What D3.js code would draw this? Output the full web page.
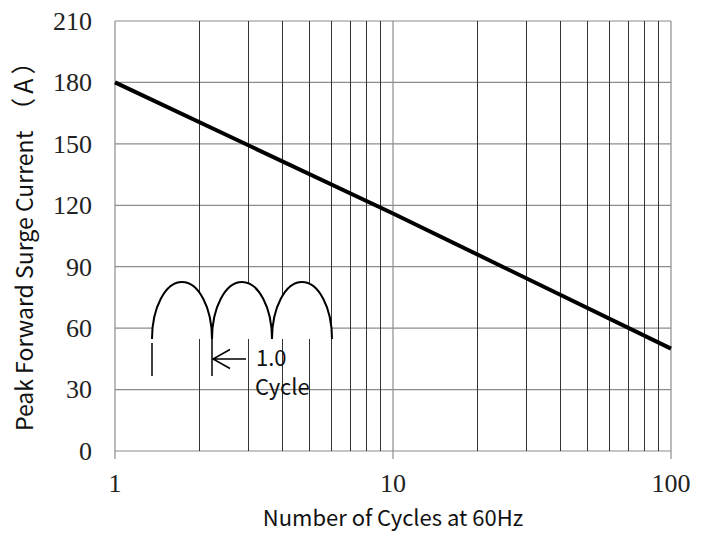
<!DOCTYPE html>
<html>
  <head>
    <meta charset="utf-8" />
    <title>Surge Current</title>
    <script src="https://d3js.org/d3.v7.min.js"></script>
    <style>
      body { margin: 0; background: #fff; }
      .tick-label { font-family: "Liberation Serif", serif; font-size: 26px; fill: #222; }
      .title { font-family: "Noto Sans CJK SC", "Noto Sans", sans-serif; font-size: 22px; fill: #111; }
    </style>
  </head>
  <body>
    <svg id="chart" width="708" height="534"></svg>
    <script>
      // curve
      var cycles = [1, 10, 100];
      var current = [180, 116, 50];

      var yTicks = [0, 30, 60, 90, 120, 150, 180, 210];
      var xDecades = [1, 10, 100];
      var xMinor = [2, 3, 4, 5, 6, 7, 8, 9, 20, 30, 40, 50, 60, 70, 80, 90];

      var plotL = 115, plotR = 671, plotT = 21, plotB = 451;

      var svg = d3.select("#chart");

      var x = d3.scaleLog().domain([1, 100]).range([plotL, plotR]);
      var y = d3.scaleLinear().domain([0, 210]).range([plotB, plotT]);

      // horizontal grid
      svg.selectAll("line.hgrid")
        .data(yTicks)
        .enter().append("line")
        .attr("class", "hgrid")
        .attr("x1", plotL).attr("x2", plotR)
        .attr("y1", function (d) { return y(d); })
        .attr("y2", function (d) { return y(d); })
        .attr("stroke", "#8c8c8c")
        .attr("stroke-width", 1.2);

      // minor vertical grid
      svg.selectAll("line.vminor")
        .data(xMinor)
        .enter().append("line")
        .attr("class", "vminor")
        .attr("x1", function (d) { return Math.round(x(d)) + 0.5; })
        .attr("x2", function (d) { return Math.round(x(d)) + 0.5; })
        .attr("y1", plotT).attr("y2", plotB)
        .attr("stroke", "#333")
        .attr("stroke-width", 1);

      // decade lines, with a small tick below the frame
      svg.selectAll("line.vmajor")
        .data(xDecades)
        .enter().append("line")
        .attr("class", "vmajor")
        .attr("x1", function (d) { return x(d); })
        .attr("x2", function (d) { return x(d); })
        .attr("y1", plotT).attr("y2", plotB + 8)
        .attr("stroke", "#8c8c8c")
        .attr("stroke-width", 1.2);

      // y tick labels
      svg.selectAll("text.ylab")
        .data(yTicks)
        .enter().append("text")
        .attr("class", "tick-label")
        .attr("x", 92)
        .attr("y", function (d) { return y(d); })
        .attr("dy", "0.34em")
        .attr("text-anchor", "end")
        .text(function (d) { return d; });

      // x tick labels
      svg.selectAll("text.xlab")
        .data(xDecades)
        .enter().append("text")
        .attr("class", "tick-label")
        .attr("x", function (d) { return x(d); })
        .attr("y", 492)
        .attr("text-anchor", "middle")
        .text(function (d) { return d; });

      // inset: rectified wave drawing
      var g = svg.append("g");
      var x0 = 152, w = 60, base = 339, h = 57;
      var arches = [0, 1, 2];
      var path = "M" + x0 + "," + base;
      arches.forEach(function (i) {
        path += " A" + (w / 2) + "," + h + " 0 0 1 " + (x0 + (i + 1) * w) + "," + base;
      });
      g.append("path")
        .attr("d", path + " Z")
        .attr("fill", "#fff")
        .attr("stroke", "none");
      g.append("path")
        .attr("d", path)
        .attr("fill", "none")
        .attr("stroke", "#000")
        .attr("stroke-width", 2);
      g.append("line")
        .attr("x1", x0).attr("x2", x0)
        .attr("y1", 343).attr("y2", 376)
        .attr("stroke", "#000").attr("stroke-width", 1.5);
      g.append("line")
        .attr("x1", x0 + w).attr("x2", x0 + w)
        .attr("y1", base).attr("y2", 376)
        .attr("stroke", "#000").attr("stroke-width", 1.5);
      g.append("path")
        .attr("d", "M" + (x0 + w + 1) + ",359 L246,359 M" + (x0 + w + 18) + ",349.5 L" + (x0 + w + 1) + ",359 L" + (x0 + w + 18) + ",368.5")
        .attr("fill", "none")
        .attr("stroke", "#000").attr("stroke-width", 1.5);
      g.append("text")
        .attr("class", "title")
        .attr("x", 256).attr("y", 366)
        .text("1.0");
      g.append("text")
        .attr("class", "title")
        .attr("x", 255).attr("y", 395)
        .text("Cycle");

      // data line
      var line = d3.line()
        .x(function (d) { return x(d[0]); })
        .y(function (d) { return y(d[1]); });

      svg.append("path")
        .datum(d3.zip(cycles, current))
        .attr("d", line)
        .attr("fill", "none")
        .attr("stroke", "#000")
        .attr("stroke-width", 4);

      // axis titles
      svg.append("text")
        .attr("class", "title")
        .attr("x", (plotL + plotR) / 2)
        .attr("y", 526)
        .attr("text-anchor", "middle")
        .text("Number of Cycles at 60Hz");

      var ylab = svg.append("text")
        .attr("class", "title")
        .style("font-size", "23px")
        .attr("transform", "translate(33,431) rotate(-90)")
        .attr("text-anchor", "start");
      ylab.append("tspan").text("Peak Forward Surge Current");
      ylab.append("tspan")
        .attr("dx", 8)
        .style("font-size", "25px")
        .style("letter-spacing", "4px")
        .text("（A）");
    </script>
  </body>
</html>
